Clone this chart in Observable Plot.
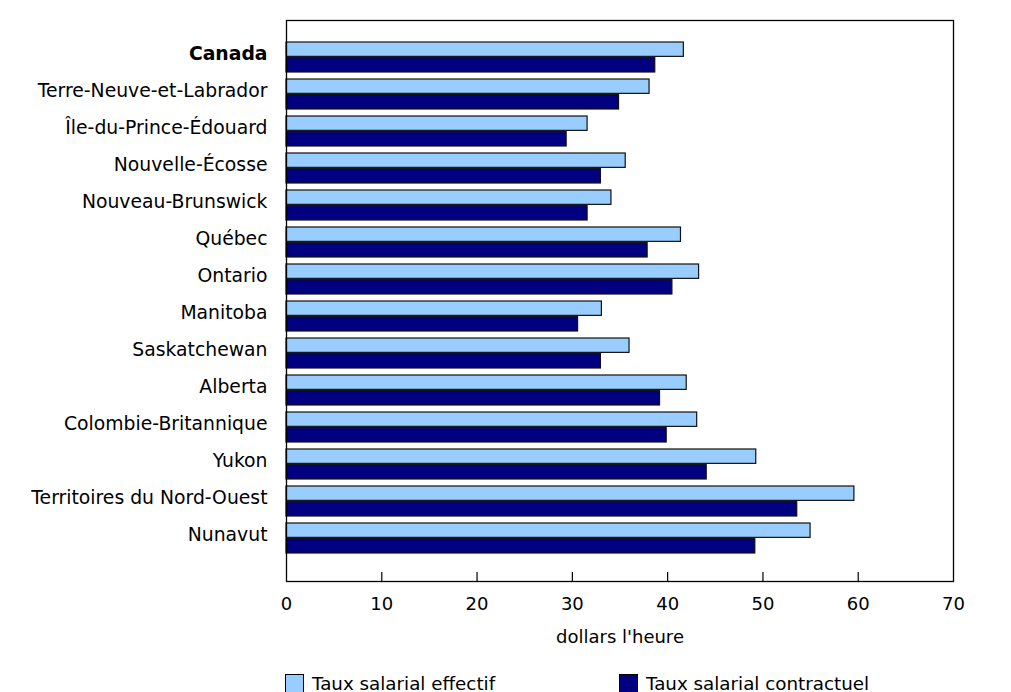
<!DOCTYPE html>
<html>
<head>
<meta charset="utf-8">
<script src="https://cdn.jsdelivr.net/npm/d3@7"></script>
<script src="https://cdn.jsdelivr.net/npm/@observablehq/plot@0.6"></script>
<style>
  body { margin: 0; background: #fff; font-family: "DejaVu Sans", Verdana, sans-serif; }
  #chart svg { display: block; }
  .legend { position: relative; height: 32px; font-size: 18.3px; color: #000; }
  .item { position: absolute; top: 13px; display: flex; align-items: center; }
  .sw { width: 19px; height: 20px; border: 1.5px solid #000; margin-right: 8px; box-sizing: border-box; }
</style>
</head>
<body>
<div id="chart"></div>
<div class="legend">
  <div class="item" style="left:285px"><div class="sw" style="background:#99ccff"></div><span id="l1"></span></div>
  <div class="item" style="left:619px"><div class="sw" style="background:#000080"></div><span id="l2"></span></div>
</div>
<script>
const provinces = ["Canada", "Terre-Neuve-et-Labrador", "Île-du-Prince-Édouard", "Nouvelle-Écosse",
  "Nouveau-Brunswick", "Québec", "Ontario", "Manitoba", "Saskatchewan", "Alberta",
  "Colombie-Britannique", "Yukon", "Territoires du Nord-Ouest", "Nunavut"];
const effectif =    [41.7, 38.1, 31.6, 35.6, 34.1, 41.4, 43.3, 33.1, 36.0, 42.0, 43.1, 49.3, 59.6, 55.0];
const contractuel = [38.7, 34.9, 29.4, 33.0, 31.6, 37.9, 40.5, 30.6, 33.0, 39.2, 39.9, 44.1, 53.6, 49.2];
const seriesNames = ["Taux salarial effectif", "Taux salarial contractuel"];
const xTicks = [0, 10, 20, 30, 40, 50, 60, 70];
const xLabel = "dollars l'heure";
const boldLabel = "Canada";

document.getElementById("l1").textContent = seriesNames[0];
document.getElementById("l2").textContent = seriesNames[1];

const width = 1011, height = 660;
const marginTop = 20, marginBottom = 79, marginLeft = 286, marginRight = 58;
const padInner = 0.19, padOuter = 0.6;
const frameH = height - marginTop - marginBottom;
const step = frameH / (provinces.length - padInner + 2 * padOuter);
const bw = step * (1 - padInner);
const half = bw / 2;

const rowsE = provinces.map((p, i) => ({province: p, value: effectif[i]}));
const rowsC = provinces.map((p, i) => ({province: p, value: contractuel[i]}));

const chart = Plot.plot({
  width, height, marginTop, marginBottom, marginLeft, marginRight,
  style: {fontFamily: "DejaVu Sans, Verdana, sans-serif", fontSize: "18px", color: "#000", background: "#fff"},
  x: {domain: [0, 70]},
  y: {domain: provinces, paddingInner: padInner, paddingOuter: padOuter, align: 0.44, axis: null},
  marks: [
    Plot.barX(rowsE, {x: "value", y: "province", fill: "#99ccff", stroke: "#111", strokeWidth: 1.2, insetBottom: half + 0.5}),
    Plot.barX(rowsC, {x: "value", y: "province", fill: "#000080", stroke: "#111", strokeWidth: 1.2, insetTop: half + 0.5}),
    Plot.tickX(xTicks.slice(1, -1), {x: d => d, stroke: "#000", strokeWidth: 1.2, insetTop: frameH - 9}),
    Plot.frame({stroke: "#000", strokeWidth: 1.3}),
    Plot.axisX({ticks: xTicks, tickSize: 0, tickPadding: 16, label: null, fontSize: 18}),
    Plot.text([xLabel], {frameAnchor: "bottom", dy: 61, text: d => d, fontSize: 18}),
    Plot.text(provinces.filter(p => p !== boldLabel), {y: d => d, text: d => d, frameAnchor: "left", textAnchor: "end", dx: -19, dy: -3.5, fontSize: 18.8}),
    Plot.text([boldLabel], {y: d => d, text: d => d, frameAnchor: "left", textAnchor: "end", dx: -19, dy: -3.5, fontSize: 18.8, fontWeight: "bold"})
  ]
});
document.getElementById("chart").append(chart);
</script>
</body>
</html>
